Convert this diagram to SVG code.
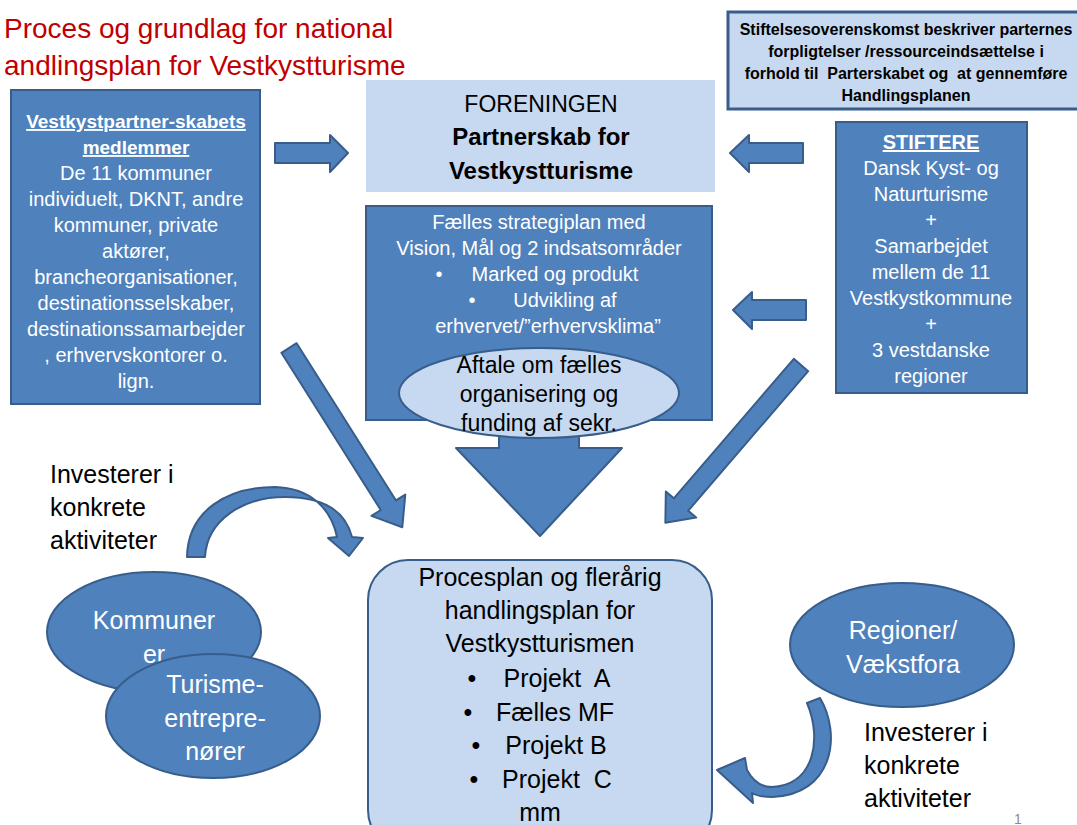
<svg xmlns="http://www.w3.org/2000/svg" width="1077" height="825" viewBox="0 0 1077 825">
<style>
text{font-family:"Liberation Sans",Arial,sans-serif;text-anchor:middle;white-space:pre}
.dark{fill:#4F81BD;stroke:#385D8A;stroke-width:2}
.light{fill:#C6D9F1;stroke:#385D8A;stroke-width:2}
.arr{fill:#4F81BD;stroke:#385D8A;stroke-width:2;stroke-linejoin:round}
.w{fill:#fff}
.k{fill:#000}
.b{font-weight:bold}
.u{text-decoration:underline}
.s20{font-size:20px}
.s23{font-size:23px}
.s25{font-size:25px}
</style>
<rect width="1077" height="825" fill="#fff"/>
<g id="title">
<text x="4" y="38" font-size="28" fill="#C00000" style="text-anchor:start">Proces og grundlag for national</text>
<text x="4" y="75" font-size="28" fill="#C00000" style="text-anchor:start">andlingsplan for Vestkystturisme</text>
</g>
<g id="note">
<rect x="728" y="12" width="360" height="97" fill="#C6D9F1" stroke="#385D8A" stroke-width="3"/>
<text class="k b" font-size="16" x="906" y="35">Stiftelsesoverenskomst beskriver parternes</text>
<text class="k b" font-size="16" x="906" y="57">forpligtelser /ressourceindsættelse i</text>
<text class="k b" font-size="16" x="906" y="79">forhold til  Parterskabet og  at gennemføre</text>
<text class="k b" font-size="16" x="906" y="101">Handlingsplanen</text>
</g>
<g id="members">
<rect class="dark" x="11" y="90" width="249" height="314"/>
<text class="w b u" font-size="19" x="136" y="128">Vestkystpartner-skabets</text>
<text class="w b u" font-size="19" x="136" y="154">medlemmer</text>
<text class="w s20" x="136" y="180">De 11 kommuner</text>
<text class="w s20" x="136" y="206">individuelt, DKNT, andre</text>
<text class="w s20" x="136" y="232">kommuner, private</text>
<text class="w s20" x="136" y="258">aktører,</text>
<text class="w s20" x="136" y="284">brancheorganisationer,</text>
<text class="w s20" x="136" y="310">destinationsselskaber,</text>
<text class="w s20" x="136" y="336">destinationssamarbejder</text>
<text class="w s20" x="136" y="362">, erhvervskontorer o.</text>
<text class="w s20" x="136" y="388">lign.</text>
</g>
<g id="foreningen">
<rect x="366" y="80" width="349" height="112" fill="#C6D9F1"/>
<text class="k s23" x="541" y="112">FORENINGEN</text>
<text class="k b" font-size="24" x="541" y="145">Partnerskab for</text>
<text class="k b" font-size="24" x="541" y="179">Vestkystturisme</text>
</g>
<g id="stiftere">
<rect class="dark" x="836" y="122" width="191" height="271"/>
<text class="w b u s20" x="931" y="149">STIFTERE</text>
<text class="w s20" x="931" y="175">Dansk Kyst- og</text>
<text class="w s20" x="931" y="201">Naturturisme</text>
<text class="w s20" x="931" y="227">+</text>
<text class="w s20" x="931" y="253">Samarbejdet</text>
<text class="w s20" x="931" y="279">mellem de 11</text>
<text class="w s20" x="931" y="305">Vestkystkommune</text>
<text class="w s20" x="931" y="331">+</text>
<text class="w s20" x="931" y="357">3 vestdanske</text>
<text class="w s20" x="931" y="383">regioner</text>
</g>
<g id="strategi">
<rect class="dark" x="366" y="206" width="346" height="214"/>
<text class="w s20" x="539" y="229">Fælles strategiplan med</text>
<text class="w s20" x="539" y="255">Vision, Mål og 2 indsatsområder</text>
<text class="w s20" x="439" y="281">•</text>
<text class="w s20" x="555" y="281">Marked og produkt</text>
<text class="w s20" x="472" y="307">•</text>
<text class="w s20" x="565" y="307">Udvikling af</text>
<text class="w s20" x="548" y="333">erhvervet/”erhvervsklima”</text>
</g>
<g id="connectors">
<path class="arr" d="M275,143 L330,143 L330,135 L348,153 L330,172 L330,163 L275,163 Z"/>
<path class="arr" d="M803,143 L749,143 L749,135 L730,153 L749,172 L749,163 L803,163 Z"/>
<path class="arr" d="M806,300 L752,300 L752,292 L733,310 L752,329 L752,320 L806,320 Z"/>
<path class="arr" transform="translate(289,348) rotate(57.7)" d="M0,-9 L186,-9 L186,-20 L212,0 L186,20 L186,9 L0,9 Z"/>
<path class="arr" transform="translate(801,365) rotate(130.7)" d="M0,-9.5 L184,-9.5 L184,-20 L208,0 L184,20 L184,9.5 L0,9.5 Z"/>
<path class="arr" d="M499,418 L579,418 L579,448 L622,448 L540,536 L456,448 L499,448 Z"/>
<path class="arr" d="M187,557 C188,510 228,487 275,487 C310,488 331,508 337,537 L328,538 L349,556 L363,538 L352,537 C345,510 322,497 285,497 C243,497 207,520 205,557 Z"/>
<path class="arr" d="M820,698 C842,735 833,795 772,797 C765,797 757,796 752,793 L753,803 L717,770 L745,758 L747,770 C755,785 765,787 772,787 C815,785 822,738 807,703 Z"/>
</g>
<g id="aftale">
<ellipse class="light" cx="539" cy="393" rx="140" ry="45"/>
<text class="k s23" x="539" y="373">Aftale om fælles</text>
<text class="k s23" x="539" y="402">organisering og</text>
<text class="k s23" x="539" y="431">funding af sekr.</text>
</g>
<g id="investerer-left">
<text class="k s25" x="50" y="483" style="text-anchor:start">Investerer i</text>
<text class="k s25" x="50" y="516" style="text-anchor:start">konkrete</text>
<text class="k s25" x="50" y="549" style="text-anchor:start">aktiviteter</text>
</g>
<g id="kommuner">
<ellipse class="dark" cx="154" cy="632" rx="107" ry="60"/>
<text class="w s25" x="154" y="629">Kommuner</text>
<text class="w s25" x="154" y="663">er</text>
</g>
<g id="turisme">
<ellipse class="dark" cx="213" cy="716" rx="107" ry="62"/>
<text class="w s25" x="215" y="693">Turisme-</text>
<text class="w s25" x="215" y="727">entrepre-</text>
<text class="w s25" x="215" y="760">nører</text>
</g>
<g id="procesplan">
<rect class="light" x="368" y="560" width="344" height="290" rx="40"/>
<text class="k s25" x="540" y="586">Procesplan og flerårig</text>
<text class="k s25" x="540" y="619">handlingsplan for</text>
<text class="k s25" x="540" y="652">Vestkystturismen</text>
<text class="k s25" x="472" y="687">•</text>
<text class="k s25" x="557" y="687">Projekt  A</text>
<text class="k s25" x="468" y="721">•</text>
<text class="k s25" x="555" y="721">Fælles MF</text>
<text class="k s25" x="476" y="754">•</text>
<text class="k s25" x="556" y="754">Projekt B</text>
<text class="k s25" x="474" y="788">•</text>
<text class="k s25" x="557" y="788">Projekt  C</text>
<text class="k s25" x="540" y="821">mm</text>
</g>
<g id="regioner">
<ellipse class="dark" cx="902" cy="645" rx="112" ry="62"/>
<text class="w s25" x="903" y="639">Regioner/</text>
<text class="w s25" x="903" y="673">Vækstfora</text>
</g>
<g id="investerer-right">
<text class="k s25" x="864" y="741" style="text-anchor:start">Investerer i</text>
<text class="k s25" x="864" y="774" style="text-anchor:start">konkrete</text>
<text class="k s25" x="864" y="807" style="text-anchor:start">aktiviteter</text>
</g>
<g id="page">
<text x="1018" y="824" font-size="14" fill="#8C8C8C">1</text>
</g>
</svg>
